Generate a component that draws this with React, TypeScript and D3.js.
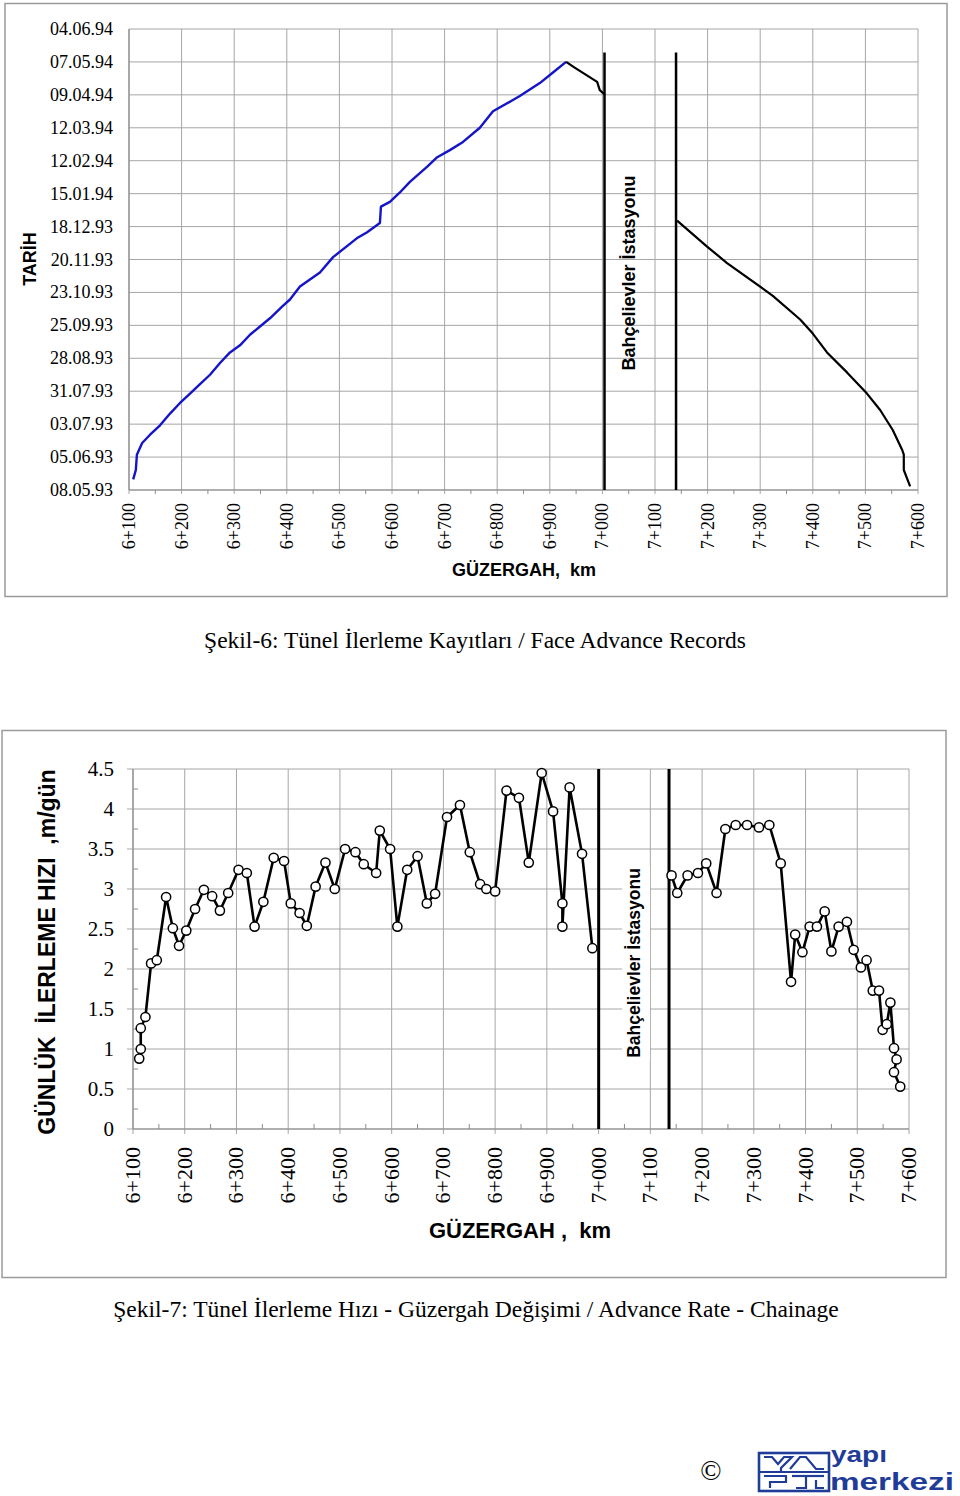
import React from 'react';
import * as d3 from 'd3';

// ---------- DATA ----------
const dateTickLabels = ['08.05.93','05.06.93','03.07.93','31.07.93','28.08.93','25.09.93','23.10.93','20.11.93','18.12.93','15.01.94','12.02.94','12.03.94','09.04.94','07.05.94','04.06.94'];
const chainageTicks = [6100,6200,6300,6400,6500,6600,6700,6800,6900,7000,7100,7200,7300,7400,7500,7600];
const rateTicks = [0,0.5,1,1.5,2,2.5,3,3.5,4,4.5];

// Şekil-6: west drive (blue)
const westChainage = [6108,6113,6115,6125,6140,6159,6178,6197,6216,6235,6254,6273,6292,6311,6330,6349,6368,6391,6406,6425,6444,6463,6488,6533,6552,6577,6579,6596,6615,6634,6667,6686,6710,6735,6767,6792,6843,6881,6906,6931];
const westDate = ['17.05.93','25.05.93','07.06.93','17.06.93','24.06.93','02.07.93','12.07.93','21.07.93','29.07.93','06.08.93','14.08.93','24.08.93','02.09.93','08.09.93','17.09.93','24.09.93','01.10.93','11.10.93','17.10.93','28.10.93','03.11.93','09.11.93','22.11.93','08.12.93','13.12.93','21.12.93','04.01.94','08.01.94','16.01.94','25.01.94','07.02.94','15.02.94','21.02.94','28.02.94','12.03.94','26.03.94','08.04.94','19.04.94','28.04.94','07.05.94'];
// black: from station side toward the peak
const stationDriveChainage = [6931,6948,6990,6995,7005];
const stationDriveDate = ['07.05.94','02.05.94','20.04.94','13.04.94','09.04.94'];
// black: east drive
const eastChainage = [7142,7199,7237,7309,7324,7376,7400,7427,7465,7503,7528,7552,7570,7573,7573,7585];
const eastDate = ['23.12.93','01.12.93','17.11.93','25.10.93','20.10.93','30.09.93','18.09.93','02.09.93','16.08.93','29.07.93','15.07.93','28.06.93','11.06.93','07.06.93','25.05.93','11.05.93'];

// Şekil-7: daily advance rate
const rateWestChainage = [6112,6115,6115,6124,6135,6146,6164,6177,6189,6203,6220,6237,6253,6268,6284,6304,6320,6335,6352,6372,6392,6405,6422,6436,6453,6472,6490,6510,6530,6546,6570,6577,6597,6611,6630,6650,6668,6684,6707,6732,6751,6771,6783,6800,6822,6846,6865,6890,6912,6930,6930,6944,6968,6988];
const rateWest = [0.88,1.00,1.26,1.40,2.07,2.11,2.90,2.51,2.29,2.48,2.75,2.99,2.91,2.73,2.95,3.24,3.20,2.53,2.84,3.39,3.35,2.82,2.70,2.54,3.03,3.33,3.00,3.50,3.46,3.31,3.20,3.73,3.50,2.53,3.24,3.41,2.82,2.94,3.90,4.05,3.46,3.06,3.00,2.97,4.23,4.14,3.33,4.45,3.97,2.82,2.53,4.27,3.44,2.26];
const rateEastChainage = [7141,7152,7172,7192,7208,7228,7245,7265,7287,7310,7330,7352,7372,7380,7394,7408,7422,7437,7450,7464,7480,7493,7507,7518,7530,7542,7549,7557,7564,7571,7576,7571,7583];
const rateEast = [3.17,2.95,3.17,3.20,3.32,2.95,3.75,3.80,3.80,3.77,3.80,3.32,1.84,2.43,2.21,2.53,2.53,2.72,2.22,2.53,2.59,2.24,2.02,2.11,1.73,1.73,1.24,1.31,1.58,1.01,0.87,0.71,0.53];

const stationBounds = [7004, 7140];
const stationLineTopDate = '15.05.94';

const SERIF = '"Liberation Serif", "Times New Roman", serif';
const SANS = '"Liberation Sans", Arial, sans-serif';
const GRID = '#a6a6a6';
const AXIS = '#8c8c8c';
const BLUE = '#1414c8';
const LOGO = '#1f3c98';

const parse = d3.timeParse('%d.%m.%y');
const fmtCh = (v: number) => `${Math.floor(v / 1000)}+${String(v % 1000).padStart(3, '0')}`;

export default function App() {
  // top chart scales
  const xT = d3.scaleLinear().domain([6100, 7600]).range([129, 918]);
  const dates = dateTickLabels.map((s) => parse(s) as Date);
  const yT = d3.scaleTime().domain([dates[0], dates[dates.length - 1]]).range([490, 29]);
  const lineT = d3.line<[number, string]>().x((d) => xT(d[0])).y((d) => yT(parse(d[1]) as Date));
  const west = westChainage.map((c, i) => [c, westDate[i]] as [number, string]);
  const stDrive = stationDriveChainage.map((c, i) => [c, stationDriveDate[i]] as [number, string]);
  const east = eastChainage.map((c, i) => [c, eastDate[i]] as [number, string]);
  const minorT = d3.range(6150, 7600, 100);

  // bottom chart scales
  const xB = d3.scaleLinear().domain([6100, 7600]).range([133, 909]);
  const yB = d3.scaleLinear().domain([0, 4.5]).range([1129, 769]);
  const lineB = d3.line<[number, number]>().x((d) => xB(d[0])).y((d) => yB(d[1]));
  const rW = rateWestChainage.map((c, i) => [c, rateWest[i]] as [number, number]);
  const rE = rateEastChainage.map((c, i) => [c, rateEast[i]] as [number, number]);
  const minorYB = d3.range(0.25, 4.5, 0.5);

  return (
    <svg width={960} height={1496} style={{ position: 'absolute', left: 0, top: 0, background: '#fff' }}>
      <rect x={0} y={0} width={960} height={1496} fill="#fff" />
      {/* ===== TOP CHART ===== */}
      <rect x={5} y={3.5} width={942} height={593} fill="#fff" stroke="#9a9a9a" strokeWidth={1.5} />
      {chainageTicks.map((c) => (
        <line key={'tv' + c} x1={xT(c)} x2={xT(c)} y1={yT(dates[dates.length - 1])} y2={yT(dates[0]) + 4} stroke={GRID} strokeWidth={1} />
      ))}
      {dates.map((d, i) => (
        <line key={'th' + i} x1={xT(6100)} x2={xT(7600)} y1={yT(d)} y2={yT(d)} stroke={GRID} strokeWidth={1} />
      ))}
      {minorT.map((c) => (
        <line key={'tm' + c} x1={xT(c)} x2={xT(c)} y1={yT(dates[0])} y2={yT(dates[0]) + 4} stroke={AXIS} strokeWidth={1} />
      ))}
      <line x1={xT(6100)} x2={xT(7600)} y1={yT(dates[0])} y2={yT(dates[0])} stroke={AXIS} strokeWidth={1.2} />
      <line x1={xT(6100)} x2={xT(6100)} y1={yT(dates[0])} y2={yT(dates[dates.length - 1])} stroke={AXIS} strokeWidth={1.2} />
      {dateTickLabels.map((s, i) => (
        <text key={'tyl' + i} x={113} y={yT(dates[i]) + 6} textAnchor="end" fontFamily={SERIF} fontSize={18} fill="#000">{s}</text>
      ))}
      {chainageTicks.map((c) => (
        <text key={'txl' + c} transform={`translate(${xT(c) + 6},${yT(dates[0]) + 13}) rotate(-90)`} textAnchor="end" fontFamily={SERIF} fontSize={18} fill="#000">{fmtCh(c)}</text>
      ))}
      <text x={524} y={576} textAnchor="middle" fontFamily={SANS} fontWeight="bold" fontSize={18} style={{ whiteSpace: 'pre' }}>{'GÜZERGAH,  km'}</text>
      <text transform="translate(36,259) rotate(-90)" textAnchor="middle" fontFamily={SANS} fontWeight="bold" fontSize={18}>TARİH</text>
      {stationBounds.map((c) => (
        <line key={'ts' + c} x1={xT(c)} x2={xT(c)} y1={yT(parse(stationLineTopDate) as Date)} y2={yT(dates[0])} stroke="#000" strokeWidth={2.5} />
      ))}
      <text transform="translate(635,273) rotate(-90)" textAnchor="middle" fontFamily={SANS} fontWeight="bold" fontSize={18}>Bahçelievler İstasyonu</text>
      <path d={lineT(west) || ''} fill="none" stroke={BLUE} strokeWidth={2.4} strokeLinejoin="round" />
      <path d={lineT(stDrive) || ''} fill="none" stroke="#000" strokeWidth={2.2} strokeLinejoin="round" />
      <path d={lineT(east) || ''} fill="none" stroke="#000" strokeWidth={2.2} strokeLinejoin="round" />

      <text x={475} y={648} textAnchor="middle" fontFamily={SERIF} fontSize={23.5}>Şekil-6: Tünel İlerleme Kayıtları / Face Advance Records</text>

      {/* ===== BOTTOM CHART ===== */}
      <rect x={2} y={730.5} width={944} height={547} fill="#fff" stroke="#9a9a9a" strokeWidth={1.5} />
      {chainageTicks.map((c) => (
        <line key={'bv' + c} x1={xB(c)} x2={xB(c)} y1={yB(4.5)} y2={yB(0) + 5} stroke={GRID} strokeWidth={1} />
      ))}
      {rateTicks.map((v) => (
        <line key={'bh' + v} x1={xB(6100) - 6} x2={xB(7600)} y1={yB(v)} y2={yB(v)} stroke={GRID} strokeWidth={1} />
      ))}
      {minorYB.map((v) => (
        <line key={'bmy' + v} x1={xB(6100)} x2={xB(6100) + 5} y1={yB(v)} y2={yB(v)} stroke={AXIS} strokeWidth={1} />
      ))}
      {d3.range(6150, 7600, 100).map((c) => (
        <line key={'bmx' + c} x1={xB(c)} x2={xB(c)} y1={yB(0)} y2={yB(0) - 5} stroke={AXIS} strokeWidth={1} />
      ))}
      <line x1={xB(6100)} x2={xB(7600)} y1={yB(0)} y2={yB(0)} stroke={AXIS} strokeWidth={1.2} />
      <line x1={xB(6100)} x2={xB(6100)} y1={yB(0)} y2={yB(4.5)} stroke={AXIS} strokeWidth={1.2} />
      {rateTicks.map((v) => (
        <text key={'byl' + v} x={114} y={yB(v) + 7} textAnchor="end" fontFamily={SERIF} fontSize={21}>{String(v)}</text>
      ))}
      {chainageTicks.map((c) => (
        <text key={'bxl' + c} transform={`translate(${xB(c) + 7},${yB(0) + 18}) rotate(-90)`} textAnchor="end" fontFamily={SERIF} fontSize={22}>{fmtCh(c)}</text>
      ))}
      <text x={520} y={1238} textAnchor="middle" fontFamily={SANS} fontWeight="bold" fontSize={22} style={{ whiteSpace: 'pre' }}>{'GÜZERGAH ,  km'}</text>
      <text transform="translate(55,952) rotate(-90)" textAnchor="middle" fontFamily={SANS} fontWeight="bold" fontSize={23} style={{ whiteSpace: 'pre' }}>{'GÜNLÜK  İLERLEME HIZI  ,m/gün'}</text>
      <rect x={622} y={866} width={28} height={194} fill="#fff" />
      <text transform="translate(640,963) rotate(-90)" textAnchor="middle" fontFamily={SANS} fontWeight="bold" fontSize={17.5}>Bahçelievler İstasyonu</text>
      {stationBounds.map((c) => (
        <line key={'bs' + c} x1={xB(c) - 2} x2={xB(c) - 2} y1={yB(4.5)} y2={yB(0)} stroke="#000" strokeWidth={3} />
      ))}
      <path d={lineB(rW) || ''} fill="none" stroke="#000" strokeWidth={2.6} strokeLinejoin="round" />
      <path d={lineB(rE) || ''} fill="none" stroke="#000" strokeWidth={2.6} strokeLinejoin="round" />
      {rW.concat(rE).map((d, i) => (
        <circle key={'pt' + i} cx={xB(d[0])} cy={yB(d[1])} r={4.6} fill="#fff" stroke="#000" strokeWidth={1.5} />
      ))}

      <text x={476} y={1317} textAnchor="middle" fontFamily={SERIF} fontSize={23.5}>Şekil-7: Tünel İlerleme Hızı - Güzergah Değişimi / Advance Rate - Chainage</text>

      {/* ===== FOOTER LOGO ===== */}
      <text x={711} y={1480} textAnchor="middle" fontFamily={SERIF} fontSize={28}>©</text>
      <g stroke={LOGO} fill="none" strokeWidth={2.2}>
        <rect x={759} y={1453} width={70} height={38} strokeWidth={2.6} />
        <line x1={759} x2={829} y1={1472} y2={1472} />
        <polyline points="764,1457 772,1457 778,1464 784,1457 792,1457 781,1468 781,1472" />
        <polyline points="790,1469 800,1457 806,1457 816,1469 824,1469" />
        <polyline points="764,1476 786,1476 786,1482 770,1482 770,1488" />
        <polyline points="792,1476 824,1476" />
        <polyline points="806,1476 806,1488 796,1488" />
        <polyline points="816,1480 816,1488 824,1488" />
      </g>
      <text x={831} y={1462} fontFamily={SANS} fontWeight="bold" fontSize={22} fill={LOGO} textLength={56} lengthAdjust="spacingAndGlyphs">yapı</text>
      <text x={830} y={1490} fontFamily={SANS} fontWeight="bold" fontSize={24} fill={LOGO} textLength={124} lengthAdjust="spacingAndGlyphs">merkezi</text>
    </svg>
  );
}
